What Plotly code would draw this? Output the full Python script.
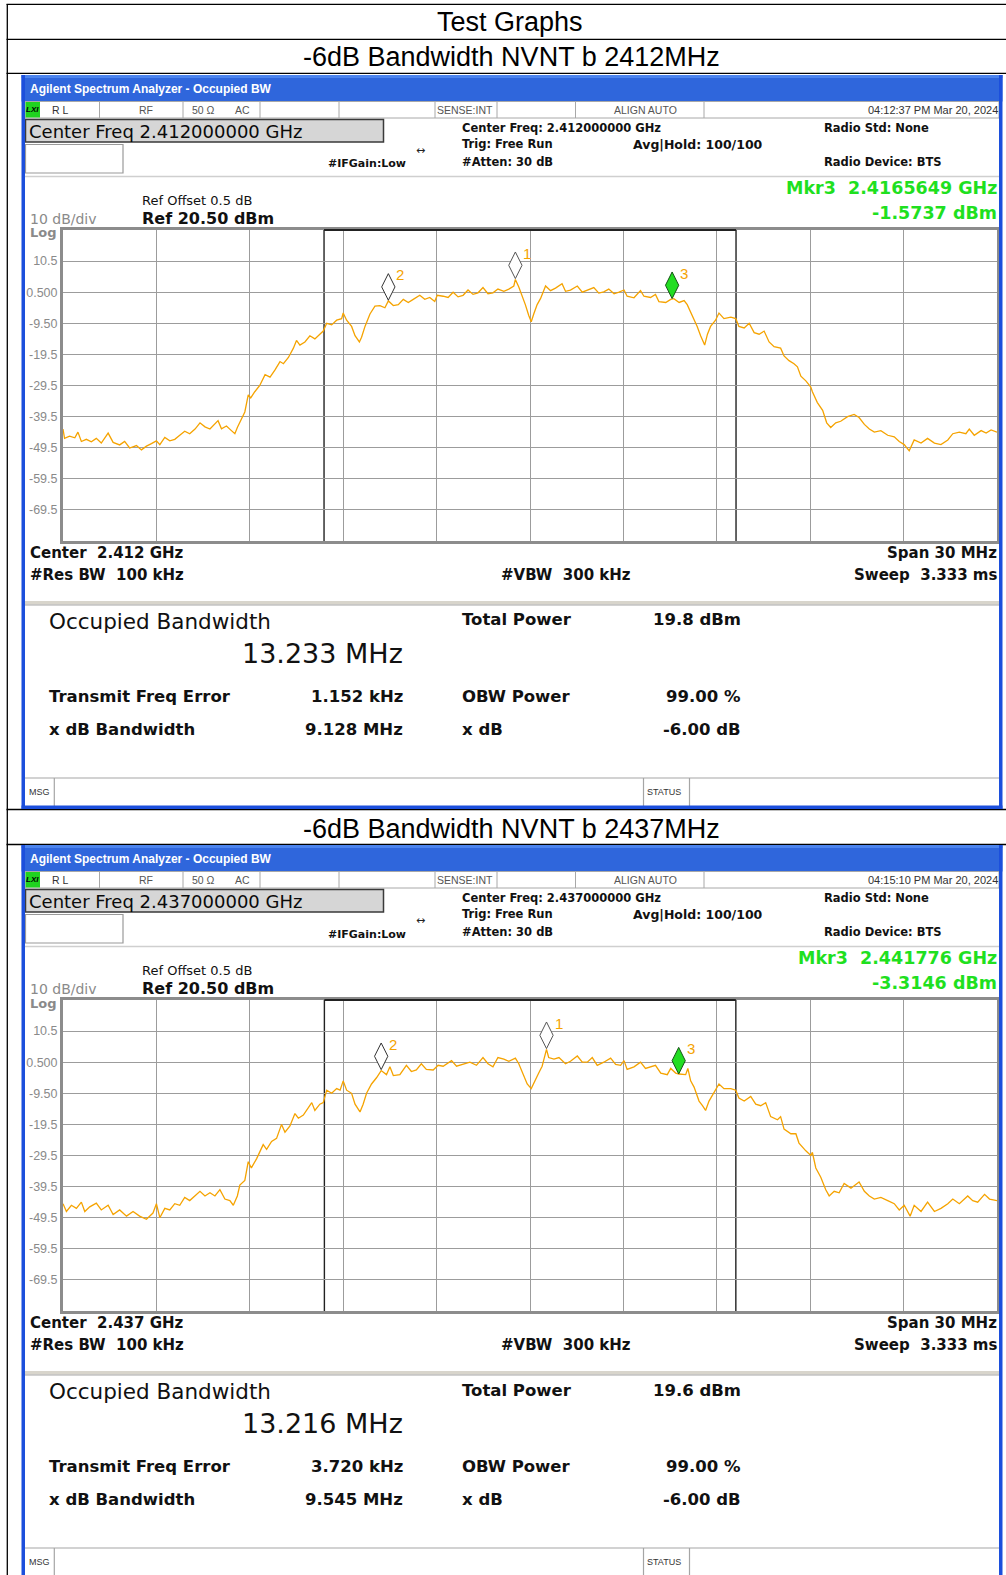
import plotly.graph_objects as go

W, H = 1006, 1575
DV = "DejaVu Sans"
LS = "Liberation Sans, Arial, sans-serif"

# ---------------- data ----------------
page_title = "Test Graphs"
section_titles = ["-6dB Bandwidth NVNT b 2412MHz", "-6dB Bandwidth NVNT b 2437MHz"]
center_ghz = [2.412, 2.437]
timestamps = ["04:12:37 PM Mar 20, 2024", "04:15:10 PM Mar 20, 2024"]
mkr3_ghz_text = ["2.4165649", "2.441776"]
mkr3_dbm = [-1.5737, -3.3146]
obw_mhz = [13.233, 13.216]
total_power = ["19.8 dBm", "19.6 dBm"]
freq_err_khz = ["1.152", "3.720"]
xdb_bw_mhz = ["9.128", "9.545"]
span_mhz = 30
ref_level = 20.5
y_ticks = [10.5, 0.5, -9.5, -19.5, -29.5, -39.5, -49.5, -59.5, -69.5]
y_tick_labels = ["10.5", "0.500", "-9.50", "-19.5", "-29.5", "-39.5", "-49.5", "-59.5", "-69.5"]
x_grid_mhz = [-12, -9, -6, -3, 0, 3, 6, 9, 12]

# (offset from center in MHz, level in dBm)
trace_2412 = [
    (-15.0, -43.5), (-14.95, -46.5), (-14.79, -45.8), (-14.62, -46.3), (-14.52, -44.5), (-14.41, -47.5),
    (-14.25, -46.8), (-14.09, -47.6), (-13.93, -46.5), (-13.77, -48.0), (-13.55, -44.8), (-13.39, -47.8),
    (-13.18, -48.6), (-13.02, -47.5), (-12.86, -49.6), (-12.64, -48.8), (-12.48, -50.2), (-12.32, -49.0),
    (-12.16, -48.2), (-12.0, -47.3), (-11.89, -48.5), (-11.73, -46.2), (-11.57, -47.3), (-11.41, -46.8),
    (-11.25, -45.5), (-11.09, -44.2), (-10.93, -45.0), (-10.76, -43.5), (-10.60, -41.5), (-10.44, -42.8),
    (-10.28, -43.5), (-10.12, -42.0), (-10.02, -40.8), (-9.91, -43.4), (-9.75, -42.5), (-9.59, -44.0),
    (-9.48, -45.0), (-9.40, -43.0), (-9.32, -41.5), (-9.16, -38.0), (-9.05, -32.5), (-8.97, -33.5),
    (-8.84, -31.5), (-8.68, -29.5), (-8.51, -26.0), (-8.35, -26.8), (-8.19, -24.5), (-8.03, -21.8),
    (-7.92, -22.5), (-7.76, -20.5), (-7.60, -17.5), (-7.50, -15.0), (-7.39, -16.5), (-7.23, -15.5),
    (-7.07, -13.5), (-6.91, -14.5), (-6.75, -13.0), (-6.64, -12.0), (-6.53, -9.5), (-6.37, -10.0),
    (-6.21, -8.5), (-6.05, -8.0), (-6.0, -6.2), (-5.89, -8.5), (-5.73, -10.5), (-5.62, -13.5),
    (-5.48, -15.5), (-5.41, -14.0), (-5.30, -10.5), (-5.14, -6.5), (-4.98, -4.0), (-4.82, -3.8),
    (-4.66, -4.5), (-4.55, -2.3), (-4.39, -3.8), (-4.23, -3.5), (-4.07, -1.8), (-3.91, -2.8),
    (-3.75, -1.8), (-3.54, -0.5), (-3.38, -1.8), (-3.22, -1.2), (-3.06, -2.5), (-2.98, -0.5),
    (-2.79, -0.8), (-2.63, -1.2), (-2.47, 0.5), (-2.31, -1.0), (-2.15, -0.5), (-1.99, 1.2),
    (-1.83, -0.2), (-1.67, 0.3), (-1.51, 2.0), (-1.35, 0.0), (-1.19, 0.3), (-1.03, 1.5),
    (-0.84, 0.8), (-0.68, 1.5), (-0.52, 2.5), (-0.47, 4.6), (-0.36, 2.2), (-0.25, -0.5),
    (-0.15, -3.5), (-0.04, -7.0), (0.04, -9.0), (0.12, -6.5), (0.23, -3.5), (0.34, -1.5),
    (0.50, 2.5), (0.66, 1.0), (0.82, 1.8), (1.03, 3.2), (1.14, 0.8), (1.30, 1.2),
    (1.52, 2.5), (1.68, 0.5), (1.84, 1.2), (2.05, 2.0), (2.21, 0.2), (2.37, 0.6),
    (2.53, 1.5), (2.70, 0.0), (2.86, 0.5), (3.02, 1.2), (3.12, -0.8), (3.34, -1.3),
    (3.55, 1.0), (3.66, -0.8), (3.87, -1.2), (4.03, -0.2), (4.14, -2.5), (4.36, -2.8),
    (4.52, -1.8), (4.62, -1.6), (4.79, -2.8), (4.95, -2.2), (5.05, -3.5), (5.21, -7.0),
    (5.37, -10.5), (5.48, -13.5), (5.61, -16.5), (5.70, -13.0), (5.80, -10.5), (5.96, -8.5),
    (6.07, -6.2), (6.23, -8.0), (6.45, -7.5), (6.61, -8.0), (6.71, -10.5), (6.88, -11.0),
    (7.04, -9.5), (7.20, -12.5), (7.36, -13.0), (7.52, -12.0), (7.68, -15.5), (7.84, -17.0),
    (8.05, -17.5), (8.16, -20.0), (8.32, -21.5), (8.48, -22.5), (8.59, -23.5), (8.70, -26.5),
    (8.86, -28.0), (9.02, -30.0), (9.07, -31.5), (9.23, -35.0), (9.40, -37.5), (9.53, -41.5),
    (9.66, -43.0), (9.82, -41.5), (9.98, -41.0), (10.20, -39.5), (10.41, -38.8), (10.57, -39.8),
    (10.74, -42.0), (10.90, -43.5), (11.06, -44.5), (11.27, -44.0), (11.49, -45.5), (11.70, -46.0),
    (11.86, -47.5), (12.02, -48.5), (12.18, -50.5), (12.34, -47.0), (12.56, -48.0), (12.77, -46.5),
    (12.99, -48.0), (13.20, -48.5), (13.42, -47.0), (13.58, -45.0), (13.79, -44.5), (14.00, -45.0),
    (14.11, -43.5), (14.27, -45.5), (14.49, -44.0), (14.65, -44.8), (14.81, -43.8), (15.00, -44.5),
]

trace_2437 = [
    (-15.0, -45.0), (-14.89, -47.5), (-14.73, -45.5), (-14.57, -46.5), (-14.41, -44.5), (-14.30, -47.5),
    (-14.14, -46.0), (-13.93, -44.8), (-13.77, -47.0), (-13.55, -45.5), (-13.39, -48.5), (-13.18, -47.0),
    (-12.96, -49.0), (-12.75, -47.5), (-12.54, -49.0), (-12.32, -50.0), (-12.11, -48.0), (-12.0, -45.0),
    (-11.89, -49.5), (-11.73, -46.5), (-11.57, -47.0), (-11.41, -45.0), (-11.25, -45.5), (-11.09, -43.0),
    (-10.93, -44.0), (-10.76, -42.5), (-10.60, -41.0), (-10.44, -42.5), (-10.28, -41.5), (-10.12, -42.5),
    (-9.96, -40.5), (-9.80, -43.5), (-9.64, -44.0), (-9.53, -45.5), (-9.40, -42.5), (-9.32, -39.0),
    (-9.16, -37.5), (-9.05, -31.5), (-8.95, -33.5), (-8.78, -30.5), (-8.57, -26.0), (-8.46, -27.5),
    (-8.30, -25.0), (-8.14, -24.0), (-7.98, -19.5), (-7.87, -22.0), (-7.71, -20.0), (-7.55, -16.0),
    (-7.44, -17.5), (-7.28, -16.5), (-7.01, -12.5), (-6.91, -15.0), (-6.75, -13.0), (-6.64, -12.5),
    (-6.53, -8.5), (-6.37, -9.5), (-6.21, -8.0), (-6.10, -8.5), (-6.0, -5.5), (-5.89, -8.5),
    (-5.73, -9.5), (-5.62, -13.0), (-5.46, -15.5), (-5.36, -13.0), (-5.25, -9.5), (-5.09, -6.5),
    (-4.93, -4.5), (-4.78, -2.2), (-4.61, -3.5), (-4.50, -1.0), (-4.39, -3.8), (-4.18, -3.5),
    (-3.97, -0.5), (-3.81, -2.5), (-3.65, -2.0), (-3.49, 0.0), (-3.33, -1.8), (-3.11, -2.0),
    (-2.95, -0.5), (-2.79, -0.8), (-2.52, 1.0), (-2.36, -0.8), (-2.15, -0.2), (-1.93, 0.5),
    (-1.72, -0.5), (-1.51, 2.0), (-1.35, 0.0), (-1.19, -1.0), (-1.03, 2.0), (-0.84, 1.5),
    (-0.68, 0.8), (-0.47, 1.8), (-0.36, 0.0), (-0.25, -2.5), (-0.09, -6.5), (0.04, -8.0),
    (0.12, -6.5), (0.28, -3.0), (0.39, -0.8), (0.53, 4.6), (0.60, 2.0), (0.77, 1.5),
    (0.93, 2.0), (1.14, 0.0), (1.30, 0.8), (1.52, 2.5), (1.68, 0.5), (1.84, 0.5),
    (2.00, 2.0), (2.16, -0.5), (2.37, 0.5), (2.59, 1.8), (2.75, -0.2), (2.91, -0.5),
    (3.02, 1.0), (3.12, -1.8), (3.34, -1.0), (3.55, 0.5), (3.71, -1.5), (3.87, -1.0),
    (4.03, -0.5), (4.20, -3.0), (4.41, -3.5), (4.52, -1.5), (4.68, -3.0), (4.78, -3.3),
    (5.00, -3.5), (5.07, -1.5), (5.16, -5.5), (5.27, -7.5), (5.43, -12.0), (5.54, -13.5),
    (5.64, -15.0), (5.75, -12.0), (5.91, -9.0), (6.07, -6.5), (6.23, -8.0), (6.45, -8.0),
    (6.61, -8.5), (6.71, -11.0), (6.88, -12.0), (7.09, -10.5), (7.25, -13.0), (7.41, -13.5),
    (7.57, -12.5), (7.73, -17.0), (7.95, -18.0), (8.05, -17.0), (8.16, -21.0), (8.38, -22.5),
    (8.54, -22.5), (8.64, -25.5), (8.86, -28.0), (9.02, -29.5), (9.07, -28.5), (9.18, -33.5),
    (9.34, -36.5), (9.50, -40.5), (9.61, -42.5), (9.77, -41.0), (9.93, -41.5), (10.09, -38.5),
    (10.31, -40.0), (10.57, -38.0), (10.74, -41.0), (10.90, -42.5), (11.06, -43.5), (11.27, -43.0),
    (11.49, -44.0), (11.70, -45.0), (11.86, -47.0), (12.02, -45.5), (12.21, -49.0), (12.34, -45.5),
    (12.56, -47.5), (12.77, -44.5), (12.99, -47.5), (13.20, -46.5), (13.42, -45.0), (13.58, -43.5),
    (13.79, -45.0), (14.06, -42.5), (14.22, -44.0), (14.38, -44.5), (14.60, -42.0), (14.76, -43.5),
    (15.00, -44.0),
]

# markers 1 and 2; marker 3 comes from the readout
mkr12_freq = [[-0.47, -4.55], [0.53, -4.78]]
mkr12_dbm = [[4.85, -2.1], [4.85, -1.9]]

traces = [trace_2412, trace_2437]

# ---------------- layout helpers ----------------
shapes = []
annotations = []


def X(px):
    return px / W


def Y(py):
    return 1 - py / H


def rect(x0, y0, x1, y1, fill=None, line=None, lw=1):
    shapes.append(dict(type="rect", xref="paper", yref="paper",
                       x0=X(x0), x1=X(x1), y0=Y(y0), y1=Y(y1),
                       fillcolor=fill if fill else "rgba(0,0,0,0)",
                       line=dict(color=line if line else "rgba(0,0,0,0)", width=lw if line else 0),
                       layer="above"))


def seg(x0, y0, x1, y1, color, lw=1):
    shapes.append(dict(type="line", xref="paper", yref="paper",
                       x0=X(x0), x1=X(x1), y0=Y(y0), y1=Y(y1),
                       line=dict(color=color, width=lw), layer="above"))


def txt(x, y, s, size, color="#111111", bold=False, anchor="left", family=DV):
    annotations.append(dict(x=X(x), y=Y(y), xref="paper", yref="paper",
                            text=f"<b>{s}</b>" if bold else s, showarrow=False,
                            xanchor=anchor, yanchor="middle", borderpad=0,
                            font=dict(size=size, color=color, family=family)))


NB = "\u00a0"
ORANGE = "#F5A300"
GREEN = "#1FE01F"
BLUE = "#1C4FDC"
GRID = "#9c9c9c"

fig = go.Figure()

# table lines / titles
for yy in [4.3, 39.3, 73.3, 809.5, 844.5]:
    seg(6.5, yy, 1006, yy, "#000000", 1.3)
seg(7.3, 4.3, 7.3, 1575, "#000000", 1.3)
txt(509.5, 22.5, page_title, 27, "#000000", anchor="center", family=LS)

for p in range(2):
    o = 770 * p
    ax = "" if p == 0 else str(p + 1)
    cghz = center_ghz[p]

    txt(511, 57 + o + (1.5 if p else 0), section_titles[p], 27, "#000000", anchor="center", family=LS)

    # window title bar
    rect(21.5, 75 + o, 1002.5, 101.5 + o, fill="#2F66DC")
    rect(21.5, 75 + o, 1002.5, 78 + o, fill="#4C84EE")
    txt(29, 88.5 + o, "Agilent Spectrum Analyzer - Occupied BW", 12, "#FFFFFF", bold=True, family=LS)

    # status row
    rect(25, 101.5 + o, 999, 118 + o, fill="#FFFFFF", line="#A8A8A8", lw=1)
    for xv in [99.5, 183, 260, 339, 435, 497, 575.5, 704]:
        seg(xv, 101.5 + o, xv, 118 + o, "#A8A8A8", 1)
    rect(25.5, 102 + o, 40, 117.5 + o, fill="#1FD21F")
    txt(32.8, 109.8 + o, "<i>LXI</i>", 8, "#000000", bold=True, anchor="center", family=LS)
    txt(51, 109.8 + o, "R L", 10.5, "#333333", family=LS)
    txt(146, 109.8 + o, "RF", 10.5, "#555555", anchor="center", family=LS)
    txt(191, 109.8 + o, "50 Ω", 10.5, "#555555", family=LS)
    txt(234, 109.8 + o, "AC", 10.5, "#555555", family=LS)
    txt(436, 109.8 + o, "SENSE:INT", 10.5, "#555555", family=LS)
    txt(645, 109.8 + o, "ALIGN AUTO", 10.5, "#555555", anchor="center", family=LS)
    txt(999, 109.8 + o, timestamps[p], 11, "#333333", anchor="right", family=LS)

    # center freq box
    rect(25.5, 119.5 + o, 383.5, 142 + o, fill="#D6D6D6", line="#3A3A3A", lw=1.5)
    txt(28, 131 + o, f"Center Freq {cghz:.9f} GHz", 18, "#0A0A0A")
    rect(25.5, 144.5 + o, 123, 173 + o, fill="#FFFFFF", line="#9A9A9A", lw=1.2)

    # header info
    txt(327, 164 + o, "#IFGain:Low", 11, bold=True)
    txt(420, 150 + o, "↔", 11, "#222222", anchor="center")
    txt(460.7, 127.7 + o, f"Center Freq: {cghz:.9f} GHz", 11.5, bold=True)
    txt(460.7, 144.3 + o, "Trig: Free Run", 11.5, bold=True)
    txt(460.7, 162.3 + o, "#Atten: 30 dB", 11.5, bold=True)
    txt(632, 144.3 + o, "Avg|Hold: 100/100", 12.5, bold=True)
    txt(822.5, 127.7 + o, "Radio Std: None", 11.5, bold=True)
    txt(822.5, 162.3 + o, "Radio Device: BTS", 11.5, bold=True)
    seg(25, 176.5 + o, 999, 176.5 + o, "#CFCFCF", 1.5)

    # reference / marker readout
    txt(141, 200.7 + o, "Ref Offset 0.5 dB", 13)
    txt(141, 218.5 + o, f"Ref {ref_level:.2f} dBm", 16, bold=True)
    txt(29, 219 + o, "10 dB/div", 14, "#8A8A8A")
    txt(29, 233 + o, "Log", 13, "#8A8A8A", bold=True)
    txt(998, 188 + o, f"Mkr3{NB}{NB}{mkr3_ghz_text[p]} GHz", 17.5, GREEN, bold=True, anchor="right")
    txt(998, 213 + o, f"{mkr3_dbm[p]:.4f} dBm", 17.5, GREEN, bold=True, anchor="right")

    # footer of graticule
    txt(29, 552.5 + o, f"Center{NB}{NB}{cghz:.3f} GHz", 15, bold=True)
    txt(29, 574.5 + o, f"#Res BW{NB}{NB}100 kHz", 15, bold=True)
    txt(500.4, 574.5 + o, f"#VBW{NB}{NB}300 kHz", 15, bold=True)
    txt(998, 552.5 + o, f"Span {span_mhz} MHz", 15, bold=True, anchor="right")
    txt(998, 574.5 + o, f"Sweep{NB}{NB}3.333 ms", 15, bold=True, anchor="right")
    rect(25, 601 + o, 999, 604.5 + o, fill="#D8D5CC")
    seg(25, 605 + o, 999, 605 + o, "#A5A5A5", 1)

    # results
    txt(48, 621.5 + o, "Occupied Bandwidth", 21.5)
    txt(404, 653.5 + o, f"{obw_mhz[p]:.3f} MHz", 27, anchor="right")
    txt(460.7, 620 + o, "Total Power", 16.5, bold=True)
    txt(742, 620 + o, total_power[p], 16.5, bold=True, anchor="right")
    txt(48, 696 + o, "Transmit Freq Error", 16.5, bold=True)
    txt(404, 696 + o, f"{freq_err_khz[p]} kHz", 16.5, bold=True, anchor="right")
    txt(460.7, 696 + o, "OBW Power", 16.5, bold=True)
    txt(742, 696 + o, "99.00 %", 16.5, bold=True, anchor="right")
    txt(48, 729 + o, "x dB Bandwidth", 16.5, bold=True)
    txt(404, 729 + o, f"{xdb_bw_mhz[p]} MHz", 16.5, bold=True, anchor="right")
    txt(460.7, 729 + o, "x dB", 16.5, bold=True)
    txt(742, 729 + o, "-6.00 dB", 16.5, bold=True, anchor="right")

    # message row
    seg(25, 778 + o, 999, 778 + o, "#A5A5A5", 1.2)
    for xv in [54.3, 643.5, 689.5]:
        seg(xv, 778 + o, xv, 806 + o, "#A5A5A5", 1.2)
    txt(27.5, 792 + o, "MSG", 9, "#333333", family=LS)
    txt(645.5, 792 + o, "STATUS", 9, "#333333", family=LS)

    # window frame
    rect(21.5, 75 + o, 25, 809 + o, fill=BLUE)
    rect(999, 75 + o, 1002.5, 809 + o, fill=BLUE)
    rect(21.5, 805.5 + o, 1002.5, 809 + o, fill=BLUE)

    # ---- graticule subplot ----
    pts = traces[p]
    fx = [a for a, _ in pts]
    fy = [b for _, b in pts]
    fig.add_trace(go.Scatter(x=fx, y=fy, mode="lines", line=dict(color=ORANGE, width=1.3),
                             xaxis="x" + ax, yaxis="y" + ax, hoverinfo="skip"))

    err_mhz = float(freq_err_khz[p]) / 1000
    left = err_mhz - obw_mhz[p] / 2
    right = err_mhz + obw_mhz[p] / 2
    for xv in [left, right]:
        shapes.append(dict(type="line", xref="x" + ax, yref=f"y{ax} domain", x0=xv, x1=xv, y0=0, y1=1,
                           line=dict(color="#222222", width=1.4), layer="below"))
    shapes.append(dict(type="line", xref="x" + ax, yref=f"y{ax} domain", x0=left, x1=right, y0=1, y1=1,
                       line=dict(color="#222222", width=2.2), layer="above"))

    # markers (diamond tip sits on the marker level)
    mfreq = mkr12_freq[p] + [(float(mkr3_ghz_text[p]) - cghz) * 1000]
    mlev = mkr12_dbm[p] + [mkr3_dbm[p]]
    dia_off = 4.3
    fig.add_trace(go.Scatter(x=mfreq, y=[v + dia_off for v in mlev], mode="markers",
                             marker=dict(symbol="diamond-tall", size=19,
                                         color=["#FFFFFF", "#FFFFFF", "#22DD22"],
                                         line=dict(color=["#555555", "#333333", "#145214"], width=1)),
                             xaxis="x" + ax, yaxis="y" + ax, hoverinfo="skip"))
    for i, (mx, my) in enumerate(zip(mfreq, mlev)):
        annotations.append(dict(x=mx, y=my + dia_off, xref="x" + ax, yref="y" + ax, text=str(i + 1),
                                showarrow=False, xshift=12, yshift=12,
                                font=dict(size=15, color=ORANGE, family=LS)))

    dom_y = [Y(541 + o), Y(230 + o)]
    common = dict(showgrid=True, gridcolor=GRID, gridwidth=1.3, zeroline=False,
                  showline=True, mirror=True, linecolor="#8C8C8C", linewidth=3, ticks="")
    xa = dict(domain=[X(63), X(997)], range=[-span_mhz / 2, span_mhz / 2], tickvals=x_grid_mhz,
              showticklabels=False, anchor="y" + ax, **common)
    ya = dict(domain=dom_y, range=[ref_level - 100, ref_level], tickvals=y_ticks, ticktext=y_tick_labels,
              tickfont=dict(family=LS, size=12.5, color="#8A8A8A"), anchor="x" + ax, **common)
    fig.update_layout(**{"xaxis" + ax: xa, "yaxis" + ax: ya})

fig.update_layout(width=W, height=H, margin=dict(l=0, r=0, t=0, b=0), autosize=False,
                  paper_bgcolor="#FFFFFF", plot_bgcolor="#FFFFFF", showlegend=False,
                  shapes=shapes, annotations=annotations)
fig.write_html("out.html", config={"displayModeBar": False},
               post_script="document.body.style.margin='0';document.body.style.padding='0';")
